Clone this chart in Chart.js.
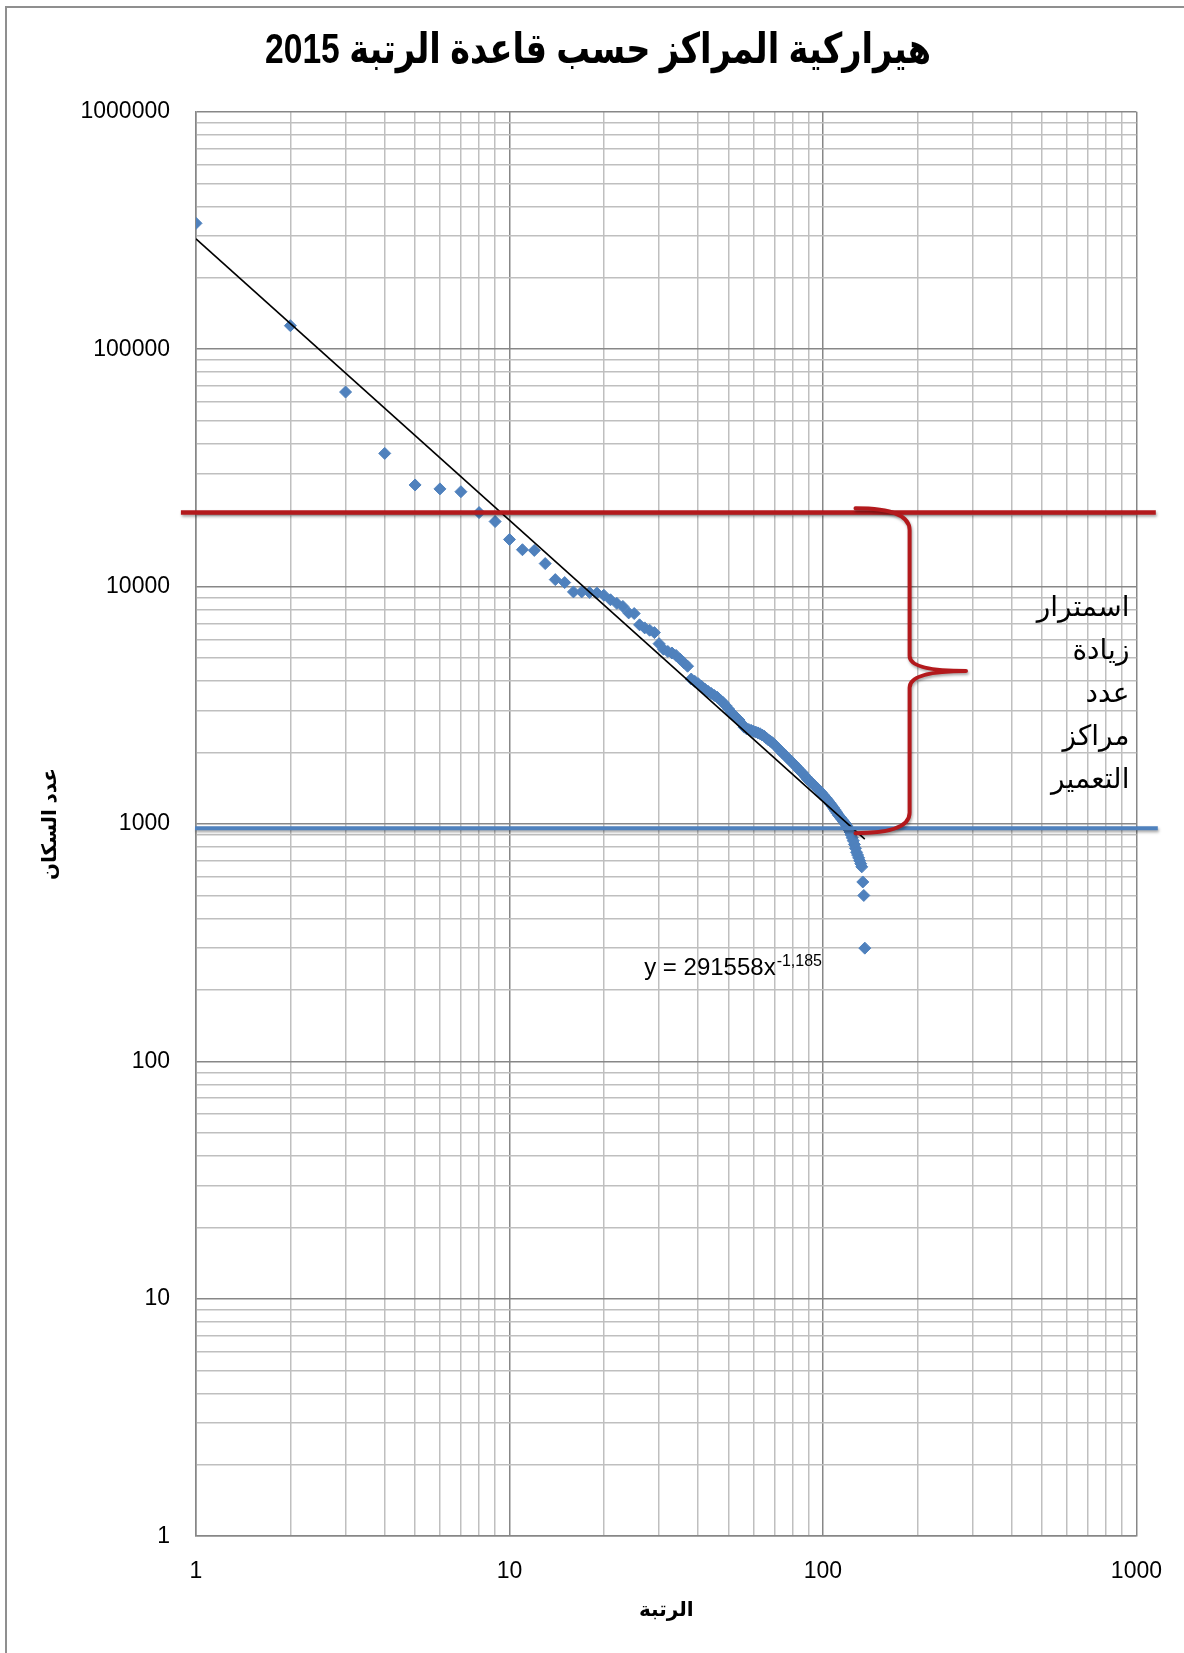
<!DOCTYPE html>
<html lang="ar">
<head>
<meta charset="utf-8">
<script src="https://cdn.jsdelivr.net/npm/chart.js@4/dist/chart.umd.min.js"></script>
<style>
html,body{margin:0;padding:0;background:#fff;overflow:hidden;}
#wrap{position:relative;width:1184px;height:1653px;}
canvas{display:block;}
#frame{position:absolute;left:5px;top:6px;width:1200px;height:1700px;border-left:2px solid #8f8f8f;border-top:2px solid #8f8f8f;pointer-events:none;}
</style>
</head>
<body>
<div id="wrap"><canvas id="c" width="1184" height="1653" aria-label="هيراركية المراكز حسب قاعدة الرتبة 2015"></canvas><div id="frame"></div></div>
<script>
// ---------- data ----------
const chartTitle = 'هيراركية المراكز حسب قاعدة الرتبة 2015';
const xAxisTitle = 'الرتبة';
const yAxisTitle = 'عدد السكان';

// population of each centre, ordered by rank (rank = position in list)
const population = [
  339000,125600,66000,36400,26800,25800,25100,20500,18800,15800,
  14300,14200,12500,10700,10400,9500,9500,9450,9400,9200,
  8800,8500,8250,7750,7700,6900,6700,6550,6400,5750,
  5450,5330,5250,5130,4950,4780,4620,4080,3990,3900,
  3800,3700,3620,3550,3480,3420,3330,3250,3150,3050,
  2950,2880,2800,2740,2650,2560,2520,2500,2480,2460,
  2440,2420,2400,2370,2340,2300,2260,2230,2200,2160,
  2120,2080,2040,2000,1970,1940,1900,1870,1840,1810,
  1780,1750,1720,1690,1660,1640,1610,1580,1550,1530,
  1510,1490,1470,1450,1430,1410,1390,1370,1350,1330,
  1310,1290,1270,1250,1230,1210,1190,1170,1150,1130,
  1110,1090,1075,1060,1045,1030,1015,1000,985,965,
  945,925,900,875,850,820,790,760,740,720,
  700,680,660,570,500,300
];

// power trend line  y = 291558 x^-1.185  (end points)
const trendX = [1, 136];
const trendY = [291558, 864];
const trendLabel = 'y = 291558x';
const trendExponent = '-1,185';

// axis ticks
const xTickValues = [1, 10, 100, 1000];
const xTickLabels = ['1', '10', '100', '1000'];
const yTickValues = [1, 10, 100, 1000, 10000, 100000, 1000000];
const yTickLabels = ['1', '10', '100', '1000', '10000', '100000', '1000000'];
const gridMultipliers = [1, 2, 3, 4, 5, 6, 7, 8, 9];

// annotation levels (data values)
const redLevel = 20500;
const blueLevel = 960;
const noteLines = ['اسمترار', 'زيادة', 'عدد', 'مراكز', 'التعمير'];

// ---------- helpers ----------
function gridFrom(decades) {
  const out = [];
  decades.slice(0, -1).forEach(d => gridMultipliers.forEach(m => out.push(d * m)));
  out.push(decades[decades.length - 1]);
  return out;
}
const xGrid = gridFrom(xTickValues);
const yGrid = gridFrom(yTickValues);
const isPow10 = v => Math.abs(Math.log10(v) - Math.round(Math.log10(v))) < 1e-9;
const labelFor = (vals, labels) => v => { const i = vals.findIndex(t => Math.abs(t - v) < 1e-6 * t); return i >= 0 ? labels[i] : ''; };

const points = population.map((p, i) => ({ x: i + 1, y: p }));
const trendPts = trendX.map((x, i) => ({ x: x, y: trendY[i] }));

const NUM_FONT = "'Liberation Sans', Arial, sans-serif";
const AR_FONT = "'Liberation Sans', 'DejaVu Sans', sans-serif";
const RED = '#B3191C';
const BLUE = '#4F81BD';

Chart.defaults.color = '#000';

// chart title (drawn condensed, like the original heavy narrow face)
const titlePlugin = {
  id: 'condensedTitle',
  afterDraw(chart) {
    const { ctx } = chart;
    ctx.save();
    ctx.fillStyle = '#000';
    ctx.font = "bold 42px 'Liberation Sans', 'DejaVu Sans', sans-serif";
    ctx.textAlign = 'center';
    ctx.textBaseline = 'middle';
    ctx.direction = 'rtl';
    ctx.translate(598, 51);
    ctx.scale(0.8, 1);
    ctx.fillText(chartTitle, 0, 0);
    ctx.restore();
  }
};

const annotationPlugin = {
  id: 'annot',
  afterDatasetsDraw(chart) {
    const { ctx } = chart;
    const xs = chart.scales.x, ys = chart.scales.y;
    const X = v => xs.getPixelForValue(v), Y = v => ys.getPixelForValue(v);
    ctx.save();
    ctx.lineCap = 'butt';
    ctx.shadowColor = 'rgba(0,0,0,0.35)';
    ctx.shadowBlur = 3;
    ctx.shadowOffsetX = 1;
    ctx.shadowOffsetY = 2;

    // red upper limit line
    ctx.strokeStyle = RED; ctx.lineWidth = 4.5;
    ctx.beginPath(); ctx.moveTo(X(0.895), Y(redLevel)); ctx.lineTo(X(1153), Y(redLevel)); ctx.stroke();

    // blue lower limit line
    ctx.strokeStyle = BLUE; ctx.lineWidth = 4;
    ctx.beginPath(); ctx.moveTo(X(0.993), Y(blueLevel)); ctx.lineTo(X(1170), Y(blueLevel)); ctx.stroke();

    // red brace
    const armX = X(127), spineX = X(189), tipX = X(286);
    const topY = Y(21400), topEnd = Y(17300), upEnd = Y(5100), tipY = Y(4410),
          lowStart = Y(3750), lowEnd = Y(1115), botY = Y(915);
    ctx.strokeStyle = RED; ctx.lineWidth = 4; ctx.lineJoin = 'round'; ctx.lineCap = 'round';
    ctx.beginPath();
    ctx.moveTo(armX, topY);
    ctx.quadraticCurveTo(spineX, topY, spineX, topEnd);
    ctx.lineTo(spineX, upEnd);
    ctx.quadraticCurveTo(spineX, tipY, tipX, tipY);
    ctx.quadraticCurveTo(spineX, tipY, spineX, lowStart);
    ctx.lineTo(spineX, lowEnd);
    ctx.quadraticCurveTo(spineX, botY, armX, botY);
    ctx.stroke();
    ctx.restore();

    // note text
    ctx.save();
    ctx.fillStyle = '#000';
    ctx.font = "28px 'Liberation Sans', 'DejaVu Sans', sans-serif";
    ctx.textAlign = 'right';
    ctx.textBaseline = 'middle';
    ctx.direction = 'rtl';
    const nx = X(950), ny = Y(8130);
    noteLines.forEach((t, i) => ctx.fillText(t, nx, ny + i * 43));
    ctx.restore();

    // trend equation
    ctx.save();
    ctx.fillStyle = '#000';
    ctx.textBaseline = 'alphabetic';
    ctx.textAlign = 'left';
    ctx.font = '24px ' + NUM_FONT;
    const ex = X(26.9), ey = Y(231);
    ctx.fillText(trendLabel, ex, ey);
    const w = ctx.measureText(trendLabel).width;
    ctx.font = '16px ' + NUM_FONT;
    ctx.fillText(trendExponent, ex + w + 1, ey - 9);
    ctx.restore();
  }
};

const gridColor = ctx => (ctx.tick && isPow10(ctx.tick.value)) ? '#878787' : '#BFBFBF';

new Chart(document.getElementById('c'), {
  type: 'scatter',
  data: {
    datasets: [
      {
        label: 'trend', type: 'line', data: trendPts, borderColor: '#000', borderWidth: 1.6,
        pointRadius: 0, fill: false, tension: 0, order: 0
      },
      {
        label: 'population', data: points, pointStyle: 'rectRot', pointRadius: 6,
        backgroundColor: BLUE, borderColor: BLUE, borderWidth: 1, order: 1
      }
    ]
  },
  options: {
    responsive: false,
    animation: false,
    devicePixelRatio: 1,
    layout: { padding: { left: 0, right: 46.4, top: 111.8, bottom: 0 } },
    plugins: {
      legend: { display: false },
      tooltip: { enabled: false },
      title: { display: false, text: chartTitle }
    },
    scales: {
      x: {
        type: 'logarithmic', min: 1, max: 1000,
        afterBuildTicks: s => { s.ticks = xGrid.map(v => ({ value: v })); },
        afterFit: s => { s.height = 116.8; },
        ticks: { autoSkip: false, maxRotation: 0, minRotation: 0, padding: 22, color: '#000',
                 font: { family: NUM_FONT, size: 23 }, callback: labelFor(xTickValues, xTickLabels) },
        grid: { color: gridColor, lineWidth: 1.5, drawTicks: false },
        border: { color: '#878787', width: 1.5 },
        title: { display: true, text: xAxisTitle, color: '#000',
                 font: { family: AR_FONT, size: 20, weight: 'bold' }, padding: { top: 0, bottom: 31 } }
      },
      y: {
        type: 'logarithmic', min: 1, max: 1000000,
        afterBuildTicks: s => { s.ticks = yGrid.map(v => ({ value: v })); },
        afterFit: s => { s.width = 196; },
        ticks: { autoSkip: false, padding: 26, color: '#000',
                 font: { family: NUM_FONT, size: 23 }, callback: labelFor(yTickValues, yTickLabels) },
        grid: { color: gridColor, lineWidth: 1.5, drawTicks: false },
        border: { color: '#878787', width: 1.5 },
        title: { display: true, text: yAxisTitle, color: '#000',
                 font: { family: AR_FONT, size: 20, weight: 'bold' }, padding: { top: 38.6, bottom: 0 } }
      }
    }
  },
  plugins: [annotationPlugin, titlePlugin]
});
</script>
</body>
</html>
